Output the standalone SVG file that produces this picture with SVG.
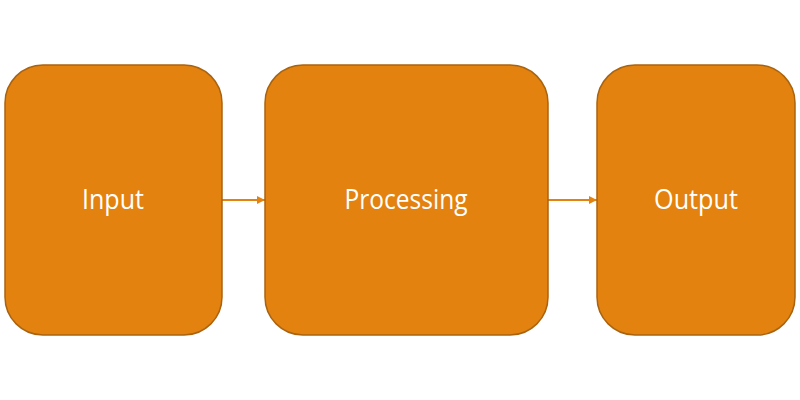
<svg xmlns="http://www.w3.org/2000/svg" width="800" height="400" viewBox="0 0 800 400">
<style>
.box{fill:#E4820F;stroke:#A9630F;stroke-width:1.5}
.lbl{font-family:"Open Sans","Noto Sans",sans-serif;font-size:27px;fill:#FFFFFF;text-anchor:middle}
.conn{stroke:#E4820F;stroke-width:2;fill:none}
</style>
<defs>
<marker id="ah" viewBox="0 0 10 10" refX="10" refY="5" markerWidth="4" markerHeight="4" orient="auto" markerUnits="strokeWidth">
<path d="M0,0 L10,5 L0,10 z" fill="#E4820F"/>
</marker>
</defs>
<rect width="800" height="400" fill="#FFFFFF"/>
<g id="connectors">
<line class="conn" x1="222" y1="200" x2="265" y2="200" marker-end="url(#ah)"/>
<line class="conn" x1="548" y1="200" x2="597" y2="200" marker-end="url(#ah)"/>
</g>
<g id="node-input">
<rect class="box" x="5" y="65" width="217" height="270" rx="38" ry="38"/>
<text class="lbl" x="113" y="209" textLength="62" lengthAdjust="spacingAndGlyphs">Input</text>
</g>
<g id="node-processing">
<rect class="box" x="265" y="65" width="283" height="270" rx="38" ry="38"/>
<text class="lbl" x="406" y="209" textLength="123" lengthAdjust="spacingAndGlyphs">Processing</text>
</g>
<g id="node-output">
<rect class="box" x="597" y="65" width="198" height="270" rx="38" ry="38"/>
<text class="lbl" x="696" y="209" textLength="84" lengthAdjust="spacingAndGlyphs">Output</text>
</g>
</svg>
